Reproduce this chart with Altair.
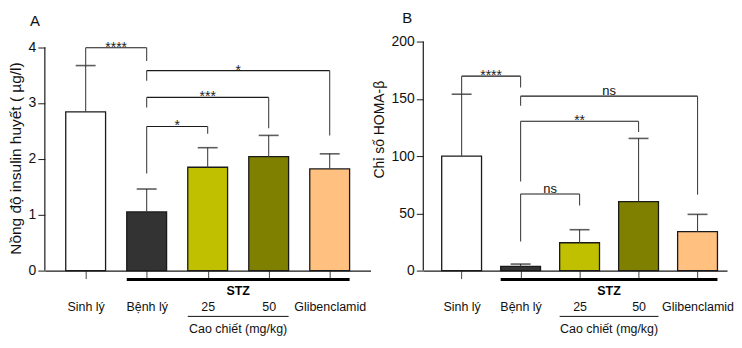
import altair as alt
import pandas as pd

# ---------------- data ----------------
groups = ["Sinh lý", "Bệnh lý", "25", "50", "Glibenclamid"]
bar_colors = ["#ffffff", "#333333", "#c0c000", "#808000", "#ffc080"]

insulin_mean = [2.84, 1.05, 1.85, 2.04, 1.82]
insulin_sd = [0.83, 0.41, 0.35, 0.38, 0.27]

homa_mean = [100.0, 3.7, 24.3, 60.3, 34.0]
homa_sd = [54.0, 2.0, 11.4, 55.1, 15.1]

# significance brackets: from group, to group, bracket level, left leg end, right leg end, label
insulin_br_from = [0, 1, 1, 1]
insulin_br_to = [1, 4, 3, 2]
insulin_br_level = [3.99, 3.58, 3.10, 2.58]
insulin_br_left = [3.67, 3.40, 2.92, 1.74]
insulin_br_right = [3.75, 2.42, 2.55, 2.45]
insulin_br_label = ["****", "*", "***", "*"]

homa_br_from = [0, 1, 1, 1]
homa_br_to = [1, 4, 3, 2]
homa_br_level = [169.8, 152.3, 130.4, 66.9]
homa_br_left = [154.0, 144.0, 77.7, 25.4]
homa_br_right = [159.8, 66.3, 121.0, 56.9]
homa_br_label = ["****", "ns", "**", "ns"]

insulin_ticks = [0, 1, 2, 3, 4]
homa_ticks = [0, 50, 100, 150, 200]

FONT = "Liberation Sans, Arial, sans-serif"
INK = "#1a1a1a"
H = 230
LBL = 12.5
label_expr = "[" + ",".join("'" + g + "'" for g in groups) + "][datum.value]"


def panel(means, sds, br, ydomain, yticks, ytitle, title_y, title_size, tag, tag_x, tag_y,
          width, xdomain):
    df = pd.DataFrame({
        "idx": list(range(len(groups))),
        "group": groups,
        "mean": means,
        "top": [m + s for m, s in zip(means, sds)],
    })
    bdf = pd.DataFrame({
        "x1": br[0], "x2": br[1], "level": br[2], "lend": br[3], "rend": br[4], "label": br[5],
    })
    bdf["mid"] = (bdf["x1"] + bdf["x2"]) / 2
    bdf["is_star"] = bdf["label"].str.contains(r"\*")

    xs = alt.Scale(domain=xdomain, nice=False, zero=False, padding=0)
    ys = alt.Scale(domain=ydomain, nice=False, zero=True)

    xax = alt.Axis(values=list(range(len(groups))), labelExpr=label_expr, tickSize=8,
                   labelPadding=22, title=None, grid=False, domainColor=INK, tickColor="#444",
                   labelFont=FONT, labelFontSize=LBL, labelColor="#111", domainWidth=1.2)
    yax = alt.Axis(values=yticks, format="d", tickSize=7, labelPadding=2, title=ytitle,
                   titleFont=FONT, titleFontSize=title_size, titleFontWeight="normal",
                   titleColor="#111", titlePadding=5, titleY=title_y, grid=False, domain=False,
                   tickColor=INK, labelFont=FONT, labelFontSize=14, labelColor="#111")

    base = alt.Chart(df)
    bars = base.mark_bar(size=40, stroke=INK, strokeWidth=1.3).encode(
        x=alt.X("idx:Q", scale=xs, axis=xax),
        y=alt.Y("mean:Q", scale=ys, axis=yax),
        color=alt.Color("group:N", scale=alt.Scale(domain=groups, range=bar_colors), legend=None),
    )
    err = base.mark_rule(color="#444", strokeWidth=1.1).encode(x="idx:Q", y="mean:Q", y2="top:Q")
    cap = base.mark_tick(orient="horizontal", size=20, thickness=1.6, color=INK).encode(
        x="idx:Q", y="top:Q")

    yline = alt.Chart(pd.DataFrame({"a": [yticks[0]], "b": [yticks[-1]]})).mark_rule(
        color=INK, strokeWidth=1.2).encode(x=alt.value(0), y="a:Q", y2="b:Q")

    bb = alt.Chart(bdf)
    hline = bb.mark_rule(color=INK, strokeWidth=1.1).encode(x="x1:Q", x2="x2:Q", y="level:Q")
    lleg = bb.mark_rule(color="#444", strokeWidth=1.1).encode(x="x1:Q", y="level:Q", y2="lend:Q")
    rleg = bb.mark_rule(color="#444", strokeWidth=1.1).encode(x="x2:Q", y="level:Q", y2="rend:Q")
    stars = bb.transform_filter("datum.is_star").mark_text(
        font=FONT, fontSize=14, baseline="alphabetic", dy=4, color="#222").encode(
        x="mid:Q", y="level:Q", text="label:N")
    ns = bb.transform_filter("!datum.is_star").mark_text(
        font=FONT, fontSize=13, baseline="alphabetic", dy=-1, color="#111").encode(
        x="mid:Q", y="level:Q", text="label:N")

    ann = alt.Chart(pd.DataFrame({"a": [1], "b": [4], "c": [2], "d": [3]}))
    stz_line = ann.mark_rule(color="#000", strokeWidth=3, xOffset=-20, x2Offset=20).encode(
        x="a:Q", x2="b:Q", y=alt.value(H + 9))
    stz_txt = alt.Chart(pd.DataFrame({"m": [2.5], "t": ["STZ"]})).mark_text(
        font=FONT, fontSize=12.5, fontWeight="bold", baseline="middle", color="#000").encode(
        x="m:Q", y=alt.value(H + 21), text="t:N")
    cao_line = ann.mark_rule(color="#111", strokeWidth=1, xOffset=-20, x2Offset=20).encode(
        x="c:Q", x2="d:Q", y=alt.value(H + 46))
    cao_txt = alt.Chart(pd.DataFrame({"m": [2.5], "t": ["Cao chiết (mg/kg)"]})).mark_text(
        font=FONT, fontSize=LBL, baseline="middle", color="#111").encode(
        x="m:Q", y=alt.value(H + 59), text="t:N")
    tag_txt = alt.Chart(pd.DataFrame({"t": [tag]})).mark_text(
        font=FONT, fontSize=15, baseline="alphabetic", align="left", color="#111").encode(
        x=alt.value(tag_x), y=alt.value(tag_y), text="t:N")

    return alt.layer(bars, err, cap, yline, hline, lleg, rleg, stars, ns,
                     stz_line, stz_txt, cao_line, cao_txt, tag_txt).properties(
        width=width, height=H)


A = panel(insulin_mean, insulin_sd,
          (insulin_br_from, insulin_br_to, insulin_br_level, insulin_br_left, insulin_br_right,
           insulin_br_label),
          [0, 4.1], insulin_ticks, "Nồng độ insulin huyết ( µg/l)", 117, 15.5, "A", -15, -16,
          327, [-0.669, 4.669])
B = panel(homa_mean, homa_sd,
          (homa_br_from, homa_br_to, homa_br_level, homa_br_left, homa_br_right, homa_br_label),
          [0, 200], homa_ticks, "Chỉ số HOMA-β", 88, 14, "B", -21, -19,
          305, [-0.65, 4.5])

chart = alt.hconcat(A, B, spacing=53, bounds="flush").properties(
    padding={"left": 0, "top": 2, "right": 0, "bottom": 0}
).configure_view(stroke=None)

chart.save("out.html", embed_options={"renderer": "svg", "actions": False})
